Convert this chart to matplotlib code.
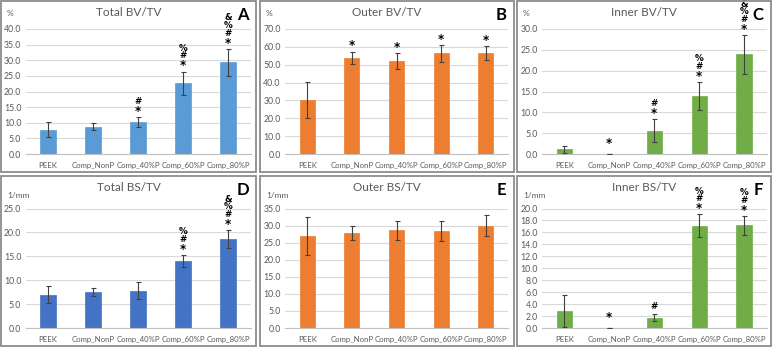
import matplotlib
matplotlib.use("Agg")
import matplotlib.pyplot as plt
from matplotlib.patches import Rectangle
import numpy as np

plt.rcParams['font.family'] = ['Lato', 'DejaVu Sans']

groups = ['PEEK', 'Comp_NonP', 'Comp_40%P', 'Comp_60%P', 'Comp_80%P']

# panel A
total_bv = [7.8, 8.8, 10.3, 22.7, 29.3]
total_bv_err = [2.4, 1.1, 1.5, 3.7, 4.4]
total_bv_sig = ['', '', '*#', '*#%', '*#%&']
# panel B
outer_bv = [30.4, 53.8, 52.0, 56.4, 56.7]
outer_bv_err = [10.1, 3.6, 4.4, 4.9, 3.9]
outer_bv_sig = ['', '*', '*', '*', '*']
# panel C
inner_bv = [1.1, 0.0, 5.6, 13.9, 23.9]
inner_bv_err = [0.9, 0.0, 2.8, 3.4, 4.7]
inner_bv_sig = ['', '*', '*#', '*#%', '*#%&']
# panel D
total_bs = [7.0, 7.5, 7.8, 14.0, 18.6]
total_bs_err = [1.7, 0.9, 1.8, 1.3, 1.9]
total_bs_sig = ['', '', '', '*#%', '*#%&']
# panel E
outer_bs = [26.9, 27.8, 28.6, 28.4, 30.0]
outer_bs_err = [5.6, 2.1, 2.7, 3.0, 3.1]
outer_bs_sig = ['', '', '', '', '']
# panel F
inner_bs = [2.8, 0.0, 1.7, 17.1, 17.2]
inner_bs_err = [2.7, 0.0, 0.6, 1.9, 1.6]
inner_bs_sig = ['', '*', '#', '*#%', '*#%']

W, H = 772, 347
fig = plt.figure(figsize=(W / 100, H / 100), dpi=100)

panel_boxes = [(1, 1, 256, 172), (260, 1, 514, 172), (517, 1, 771, 172),
               (1, 176, 256, 346), (260, 176, 514, 346), (517, 176, 771, 346)]
plot_x = [(25.5, 250.5), (285, 508), (542, 766.5)]
plot_y = [(29, 154), (208.5, 328)]

panels = [
    ('Total BV/TV', 'A', '%', total_bv, total_bv_err, total_bv_sig, '#5B9BD5', np.arange(0, 40.1, 5)),
    ('Outer BV/TV', 'B', '%', outer_bv, outer_bv_err, outer_bv_sig, '#ED7D31', np.arange(0, 70.1, 10)),
    ('Inner BV/TV', 'C', '%', inner_bv, inner_bv_err, inner_bv_sig, '#70AD47', np.arange(0, 30.1, 5)),
    ('Total BS/TV', 'D', '1/mm', total_bs, total_bs_err, total_bs_sig, '#4472C4', np.arange(0, 25.1, 5)),
    ('Outer BS/TV', 'E', '1/mm', outer_bs, outer_bs_err, outer_bs_sig, '#ED7D31', np.arange(0, 35.1, 5)),
    ('Inner BS/TV', 'F', '1/mm', inner_bs, inner_bs_err, inner_bs_sig, '#70AD47', np.arange(0, 20.1, 2)),
]

gray = '#595959'
for k, (title, letter, unit, vals, errs, sigs, col, ticks) in enumerate(panels):
    r, c = divmod(k, 3)
    x0, y0, x1, y1 = panel_boxes[k]
    fig.patches.append(Rectangle((x0 / W, 1 - y1 / H), (x1 - x0) / W, (y1 - y0) / H,
                                 transform=fig.transFigure, fill=False,
                                 edgecolor='#8C8C8C', lw=1.3))
    px0, px1 = plot_x[c]
    py0, py1 = plot_y[r]
    ax = fig.add_axes([px0 / W, 1 - py1 / H, (px1 - px0) / W, (py1 - py0) / H])
    x = np.arange(len(groups))
    ax.bar(x, vals, width=0.34, color=col, edgecolor=col, lw=0.5, zorder=2)
    ax.errorbar(x, vals, yerr=errs, fmt='none', ecolor='#404040', elinewidth=0.8,
                capsize=1.8, capthick=0.8, zorder=3)
    ax.set_ylim(ticks[0], ticks[-1])
    ax.set_xlim(-0.5, len(groups) - 0.5)
    ax.set_yticks(ticks)
    ax.set_yticklabels(['%.1f' % t for t in ticks], fontsize=6.3, color=gray)
    ax.set_xticks(x)
    ax.set_xticklabels(groups, fontsize=5.6, color=gray)
    ax.tick_params(length=0, pad=3)
    ax.tick_params(axis='x', pad=6)
    ax.grid(axis='y', color='#D9D9D9', lw=0.8, zorder=0)
    for s in ['top', 'right', 'left']:
        ax.spines[s].set_visible(False)
    ax.spines['bottom'].set_color('#BFBFBF')
    ax.spines['bottom'].set_linewidth(0.8)
    ax.set_facecolor('none')
    for i, sg in enumerate(sigs):
        top = vals[i] + errs[i]
        base = 8 if top > 0 else 13
        for j, ch in enumerate(sg):
            fs = 8.5 if ch == '*' else 6.3
            dy = 2.5 if ch == '*' else 0
            ax.annotate(ch, (i, top), xytext=(0, (base + j * 7.6 - dy) * 0.72),
                        textcoords='offset points', ha='center', va='center',
                        fontsize=fs, fontweight='bold', color='black',
                        family=['DejaVu Sans'], annotation_clip=False)
    # title, letter, unit
    fig.text((x0 + x1) / 2 / W, 1 - (y0 + 12) / H, title, ha='center', va='center',
             fontsize=8.5, color=gray)
    fig.text((x1 - 13) / W, 1 - (y0 + 14) / H, letter, ha='center', va='center',
             fontsize=12, fontweight='bold', color='black')
    fig.text((x0 + 6) / W, 1 - (y0 + 12 + (8 if r == 1 else 0)) / H, unit, ha='left', va='center',
             fontsize=6, color=gray)

fig.savefig('out.png', dpi=100, facecolor='white')
